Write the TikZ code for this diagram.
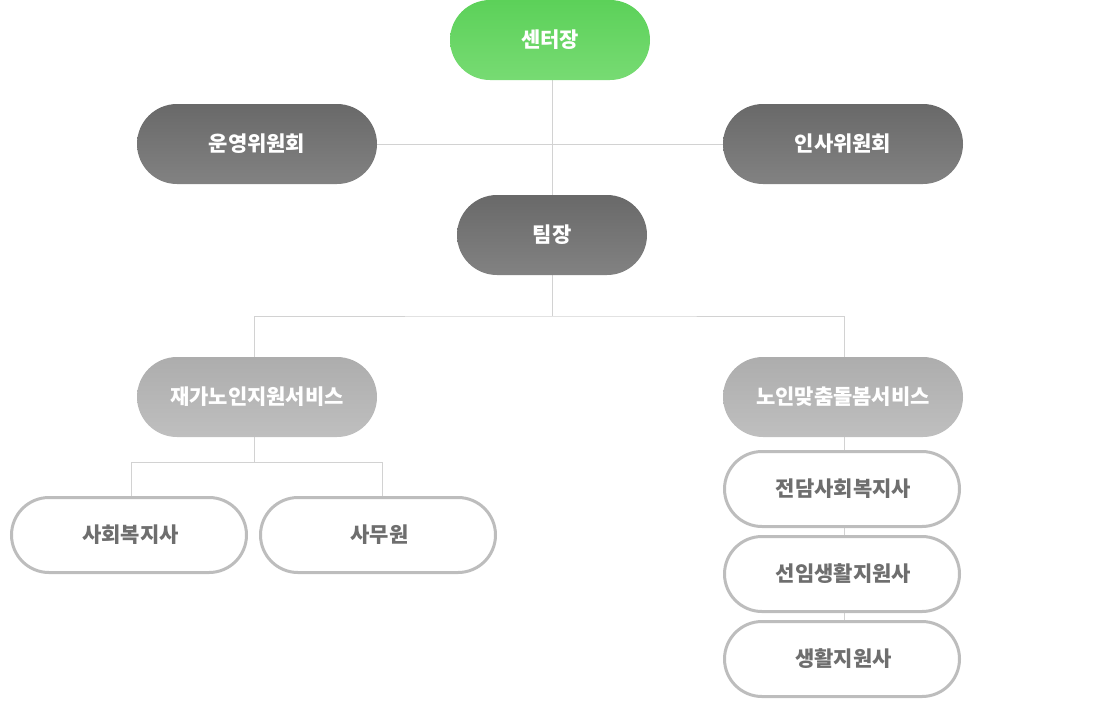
\documentclass[tikz,border=0pt]{standalone}
\usepackage{fontspec}
\newfontfamily\kr{Noto Sans CJK KR}
\usetikzlibrary{shapes.misc,backgrounds}
\definecolor{gtop}{HTML}{5CD159}
\definecolor{gbot}{HTML}{77DB73}
\definecolor{dtop}{HTML}{696969}
\definecolor{dbot}{HTML}{828282}
\definecolor{ltop}{HTML}{ADADAD}
\definecolor{lbot}{HTML}{BFBFBF}
\definecolor{bordergray}{HTML}{BDBDBD}
\definecolor{txtgray}{HTML}{6E6E6E}
\definecolor{linegray}{HTML}{D2D2D2}
\tikzset{
  pill/.style={rounded rectangle, minimum width=240pt, minimum height=80pt, inner sep=0pt,
    font=\kr\bfseries\fontsize{21}{21}\selectfont},
  greenpill/.style={pill, top color=gtop, bottom color=gbot, text=white},
  darkpill/.style={pill, top color=dtop, bottom color=dbot, text=white},
  lightpill/.style={pill, top color=ltop, bottom color=lbot, text=white},
  whitepill/.style={pill, fill=white, draw=bordergray, line width=3pt,
    minimum width=235pt, minimum height=75pt, text=txtgray},
  conn/.style={draw=linegray, line width=1pt}
}
\begin{document}
\begin{tikzpicture}[x=1pt,y=-1pt]
\useasboundingbox (0,0) rectangle (1100,705);
\node[greenpill, minimum width=200pt] (ceo) at (550,40) {센터장};
\node[darkpill] (op) at (257,144) {운영위원회};
\node[darkpill] (hr) at (843,144) {인사위원회};
\node[darkpill, minimum width=190pt] (team) at (552,235) {팀장};
\node[lightpill] (svc1) at (257,397) {재가노인지원서비스};
\node[lightpill] (svc2) at (843,397) {노인맞춤돌봄서비스};
\node[whitepill] (sw) at (129,535) {\hspace{3pt}사회복지사};
\node[whitepill] (clerk) at (378,535) {\hspace{3pt}사무원};
\node[whitepill] (r1) at (842,489) {\hspace{3pt}전담사회복지사};
\node[whitepill] (r2) at (842,574) {\hspace{3pt}선임생활지원사};
\node[whitepill] (r3) at (842,659) {\hspace{3pt}생활지원사};
\coordinate (j1) at (552,316);
\coordinate (j2) at (254,462);
\begin{scope}[on background layer]
\draw[conn] (op.east) -- (hr.west);
\draw[conn] (ceo.south -| team.north) -- (team.north);
\draw[conn] (team.south) -- (j1);
\draw[conn] ([xshift=-3pt]svc1.north) |- (j1) -| ([xshift=1pt]svc2.north);
\draw[conn] ([xshift=1pt]svc2.south) -- ([xshift=2pt]r3.north);
\draw[conn] ([xshift=-3pt]svc1.south) -- (j2);
\draw[conn] ([xshift=2pt]sw.north) |- (j2) -| ([xshift=4pt]clerk.north);
\end{scope}
\end{tikzpicture}
\end{document}
